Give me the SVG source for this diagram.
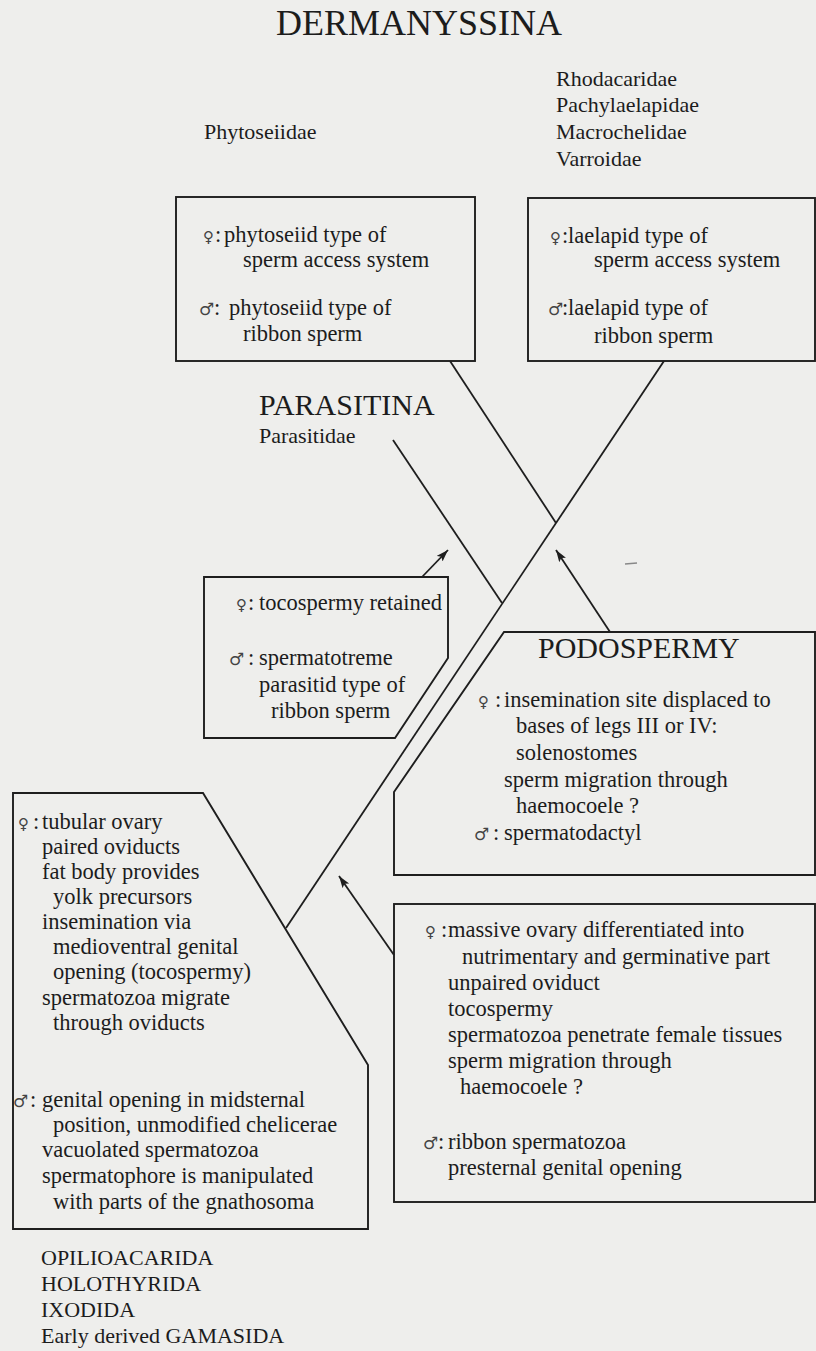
<svg xmlns="http://www.w3.org/2000/svg" width="816" height="1351" viewBox="0 0 816 1351">
<style>
text{font-family:"Liberation Serif","Times New Roman",serif;fill:#1c1c1c}
.t{font-size:22.5px}
.h{font-size:22px}
.big{font-size:30px}
.title{font-size:35px}
.sym{font-family:"DejaVu Sans",sans-serif;fill:#444}
.f{font-size:15px}
.m{font-size:17px}
.box{fill:none;stroke:#1e1e1e;stroke-width:1.9}
.ln{stroke:#1e1e1e;stroke-width:1.8;fill:none}
</style>
<defs>
<marker id="ah" markerUnits="userSpaceOnUse" markerWidth="14" markerHeight="10" refX="12" refY="4" orient="auto">
<path d="M0,0 L12,4 L0,8 L2.5,4 z" fill="#1e1e1e"/>
</marker>
</defs>
<rect width="816" height="1351" fill="#eeeeec"/>

<g id="dermanyssina">
<text class="title" x="276" y="35" textLength="286" lengthAdjust="spacingAndGlyphs">DERMANYSSINA</text>
</g>
<g id="phytoseiidae">
<text class="h" x="204" y="139">Phytoseiidae</text>
</g>
<g id="laelapid-families">
<text class="h" x="556" y="86">Rhodacaridae</text>
<text class="h" x="556" y="112">Pachylaelapidae</text>
<text class="h" x="556" y="139">Macrochelidae</text>
<text class="h" x="556" y="166">Varroidae</text>
</g>

<g id="box-phytoseiid">
<rect class="box" x="176" y="197" width="299" height="164"/>
<text class="sym f" x="203" y="242">♀</text><text class="t" x="215" y="242">:</text>
<text class="t" x="224" y="242">phytoseiid type of</text>
<text class="t" x="243" y="267">sperm access system</text>
<text class="sym m" x="199" y="315">♂</text><text class="t" x="214" y="315">:</text>
<text class="t" x="229" y="315">phytoseiid type of</text>
<text class="t" x="243" y="341">ribbon sperm</text>
</g>

<g id="box-laelapid">
<rect class="box" x="528" y="198" width="287" height="163"/>
<text class="sym f" x="550" y="243">♀</text><text class="t" x="562" y="243">:</text>
<text class="t" x="568" y="243">laelapid type of</text>
<text class="t" x="594" y="267">sperm access system</text>
<text class="sym m" x="548" y="315">♂</text><text class="t" x="562" y="315">:</text>
<text class="t" x="568" y="315">laelapid type of</text>
<text class="t" x="594" y="343">ribbon sperm</text>
</g>

<g id="parasitina">
<text class="big" x="259" y="415">PARASITINA</text>
<text class="h" x="259" y="443">Parasitidae</text>
</g>

<g id="box-parasitid">
<polygon class="box" points="204,577 448,577 448,658 395,738 204,738"/>
<text class="sym f" x="236" y="610">♀</text><text class="t" x="248" y="610">:</text>
<text class="t" x="259" y="610">tocospermy retained</text>
<text class="sym m" x="229" y="665">♂</text><text class="t" x="248" y="665">:</text>
<text class="t" x="259" y="665">spermatotreme</text>
<text class="t" x="259" y="692">parasitid type of</text>
<text class="t" x="271" y="718">ribbon sperm</text>
</g>

<g id="box-podospermy">
<polygon class="box" points="504,632 815,632 815,875 394,875 394,792"/>
<text class="big" x="538" y="658">PODOSPERMY</text>
<text class="sym f" x="478" y="707">♀</text><text class="t" x="495" y="707">:</text>
<text class="t" x="504" y="707">insemination site displaced to</text>
<text class="t" x="516" y="733">bases of legs III or IV:</text>
<text class="t" x="516" y="760">solenostomes</text>
<text class="t" x="504" y="787">sperm migration through</text>
<text class="t" x="516" y="813">haemocoele ?</text>
<text class="sym m" x="474" y="840">♂</text><text class="t" x="493" y="840">:</text>
<text class="t" x="504" y="840">spermatodactyl</text>
</g>

<g id="box-basal">
<polygon class="box" points="13,793 203,793 368,1065 368,1229 13,1229"/>
<text class="sym f" x="18" y="829">♀</text><text class="t" x="33" y="829">:</text>
<text class="t" x="42" y="829">tubular ovary</text>
<text class="t" x="42" y="854">paired oviducts</text>
<text class="t" x="42" y="879">fat body provides</text>
<text class="t" x="53" y="904">yolk precursors</text>
<text class="t" x="42" y="929">insemination via</text>
<text class="t" x="53" y="954">medioventral genital</text>
<text class="t" x="53" y="979">opening (tocospermy)</text>
<text class="t" x="42" y="1005">spermatozoa migrate</text>
<text class="t" x="53" y="1030">through oviducts</text>
<text class="sym m" x="13" y="1107">♂</text><text class="t" x="30" y="1107">:</text>
<text class="t" x="42" y="1107">genital opening in midsternal</text>
<text class="t" x="53" y="1132">position, unmodified chelicerae</text>
<text class="t" x="42" y="1157">vacuolated spermatozoa</text>
<text class="t" x="42" y="1183">spermatophore is manipulated</text>
<text class="t" x="53" y="1209">with parts of the gnathosoma</text>
</g>

<g id="box-gamasida">
<rect class="box" x="394" y="904" width="421" height="298"/>
<text class="sym f" x="425" y="937">♀</text><text class="t" x="441" y="937">:</text>
<text class="t" x="448" y="937">massive ovary differentiated into</text>
<text class="t" x="462" y="964">nutrimentary and germinative part</text>
<text class="t" x="448" y="990">unpaired oviduct</text>
<text class="t" x="448" y="1016">tocospermy</text>
<text class="t" x="448" y="1042">spermatozoa penetrate female tissues</text>
<text class="t" x="448" y="1068">sperm migration through</text>
<text class="t" x="460" y="1094">haemocoele ?</text>
<text class="sym m" x="423" y="1149">♂</text><text class="t" x="438" y="1149">:</text>
<text class="t" x="448" y="1149">ribbon spermatozoa</text>
<text class="t" x="448" y="1175">presternal genital opening</text>
</g>

<g id="outgroups">
<text class="h" x="41" y="1265">OPILIOACARIDA</text>
<text class="h" x="41" y="1291">HOLOTHYRIDA</text>
<text class="h" x="41" y="1317">IXODIDA</text>
<text class="h" x="41" y="1343">Early derived GAMASIDA</text>
</g>

<g id="connectors">
<line class="ln" x1="664" y1="361" x2="286" y2="928"/>
<line class="ln" x1="450" y1="361" x2="556" y2="523"/>
<line class="ln" x1="393" y1="440" x2="502" y2="603"/>
<line class="ln" x1="422" y1="577" x2="448" y2="550" marker-end="url(#ah)"/>
<line class="ln" x1="610" y1="632" x2="556" y2="550" marker-end="url(#ah)"/>
<line class="ln" x1="394" y1="955" x2="339" y2="876" marker-end="url(#ah)"/>
<line x1="625" y1="564" x2="637" y2="563" stroke="#888" stroke-width="1.5"/>
</g>
</svg>
